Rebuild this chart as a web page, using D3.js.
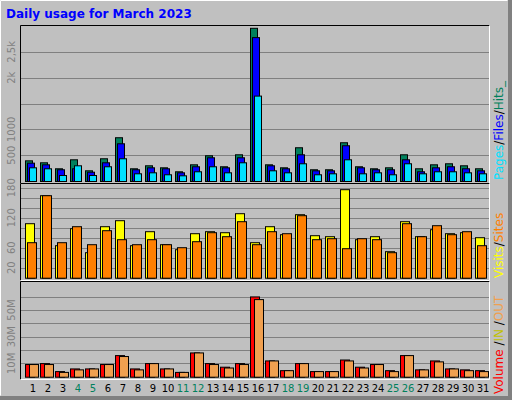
<!DOCTYPE html>
<html><head><meta charset="utf-8">
<script src="https://cdn.jsdelivr.net/npm/d3@7"></script>
<style>body{margin:0;background:#fff}</style>
</head><body><svg width="512" height="400"></svg>
<script>
const days = d3.range(1, 32);
const weekend = [4, 5, 11, 12, 18, 19, 25, 26];
const hits  = [400,362,246,420,207,440,847,246,304,265,188,323,498,285,517,2965,323,265,653,227,227,750,285,246,265,517,246,323,343,304,246];
const files = [355,323,227,246,180,362,730,227,265,246,168,285,459,265,459,2785,304,246,517,207,207,692,265,227,227,420,188,265,285,246,207];
const pages = [265,246,116,304,116,285,440,149,168,130,110,188,285,168,362,1653,207,168,343,130,149,420,149,168,130,343,149,188,188,168,149];
const visits = [109,165,65,99,51,103,115,65,93,67,57,89,93,91,129,71,103,87,127,85,83,177,77,83,53,113,83,97,89,91,81];
const sites  = [71,165,71,103,67,95,77,67,77,67,61,73,91,83,113,67,93,89,125,77,79,59,79,77,51,109,83,105,87,93,65];
const kbIn  = [9.5,10.2,4.2,6.2,6.2,9.5,16.2,6.2,10.2,6.2,3.6,18.2,10.2,7.5,10.2,60.2,12.2,4.9,10.2,4.2,4.2,12.9,7.5,9.5,4.9,16.2,5.5,12.2,6.2,5.5,4.9];
const kbOut = [9.5,9.5,3.6,5.5,6.2,9.5,15.5,5.5,10.2,6.2,3.6,18.2,9.5,6.9,9.5,58.2,12.2,4.9,10.2,4.2,4.2,12.2,6.9,9.5,4.2,16.2,5.5,11.5,6.2,4.9,4.2];
const topTicks = [500, 1000, 1500, 2000, 2500];
const topLabels = {500: "500", 1000: "1000", 2000: "2k", 2500: "2,5k"};
const midTicks = [20, 40, 60, 80, 100, 120, 140, 160, 180];
const midLabels = [20, 60, 120, 180];
const botTicks = [10, 20, 30, 40, 50, 60];
const botLabels = [10, 30, 50];

const svg = d3.select("svg");
svg.append("rect").attr("width", 512).attr("height", 400).attr("fill", "#808080");
svg.append("rect").attr("width", 508).attr("height", 396).attr("fill", "#c0c0c0");
svg.append("path").attr("d", "M0.5,395.5V0.5H507.5").attr("stroke", "#fff").attr("fill", "none");
svg.append("text").attr("x", 6).attr("y", 18).attr("fill", "#0000ff")
  .style("font", "bold 12px 'DejaVu Sans', sans-serif").text("Daily usage for March 2023");

const x = d3.scaleLinear().domain([1, 2]).range([25, 40]);

function panel(y0, y1, yMax, ticks) {
  const y = d3.scaleLinear().domain([0, yMax]).range([y1 - 3, y0 + 3 + (y1 - y0) * 0]);
  const g = svg.append("g");
  g.append("rect").attr("x", 20).attr("y", y0).attr("width", 470).attr("height", y1 - y0).attr("fill", "#c0c0c0");
  g.selectAll("line.grid").data(ticks).join("line").attr("class", "grid")
    .attr("x1", 21).attr("x2", 489).attr("y1", d => Math.round(y(d)) + 0.5).attr("y2", d => Math.round(y(d)) + 0.5)
    .attr("stroke", "#808080");
  g.append("path").attr("d", `M20.5,${y1 - 0.5}V${y0 + 0.5}H489.5`).attr("stroke", "#000").attr("fill", "none");
  g.append("path").attr("d", `M20.5,${y1 - 0.5}H489.5V${y0 + 0.5}`).attr("stroke", "#fff").attr("fill", "none");
  return y;
}
function bars(y, data, off, w, color) {
  svg.append("g").selectAll("rect").data(data).join("rect")
    .attr("x", (d, i) => x(days[i]) + off + 0.5).attr("width", w)
    .attr("y", d => y(d) + 0.5).attr("height", d => Math.max(0, y(0) - y(d)))
    .attr("fill", color).attr("stroke", "#000");
}
function yLabels(y, vals, fmt) {
  svg.append("g").selectAll("text").data(vals).join("text")
    .attr("transform", d => `translate(15,${y(d)}) rotate(-90)`).attr("text-anchor", "middle")
    .attr("fill", "#808080").style("font", "10px 'DejaVu Sans', sans-serif").text(fmt);
}

// top: hits/files/pages (0 at y≈181, 500 per 25.8px)
const yTop = d3.scaleLinear().domain([0, 3000]).range([181, 26]);
panel(25, 184, 3000, []);
svg.append("g").selectAll("line").data(topTicks).join("line")
  .attr("x1", 21).attr("x2", 489).attr("y1", d => Math.round(yTop(d)) + 0.5).attr("y2", d => Math.round(yTop(d)) + 0.5)
  .attr("stroke", "#808080");
bars(yTop, hits, 0, 7, "#00805c");
bars(yTop, files, 2, 7, "#0000ff");
bars(yTop, pages, 4, 7, "#00e0ff");
yLabels(yTop, Object.keys(topLabels).map(Number), d => topLabels[d]);

// middle: visits/sites
const yMid = d3.scaleLinear().domain([0, 180]).range([277.7, 187.7]);
panel(183, 281, 180, []);
svg.append("g").selectAll("line").data(midTicks).join("line")
  .attr("x1", 21).attr("x2", 489).attr("y1", d => Math.round(yMid(d)) + 0.5).attr("y2", d => Math.round(yMid(d)) + 0.5)
  .attr("stroke", "#808080");
bars(yMid, visits, 0, 9, "#ffff00");
bars(yMid, sites, 2, 9, "#ff8000");
yLabels(yMid, midLabels, d => d);

// bottom: volume
const yBot = d3.scaleLinear().domain([0, 60]).range([376.7, 296.7]);
panel(281, 380, 60, []);
svg.append("g").selectAll("line").data(botTicks).join("line")
  .attr("x1", 21).attr("x2", 489).attr("y1", d => Math.round(yBot(d)) + 0.5).attr("y2", d => Math.round(yBot(d)) + 0.5)
  .attr("stroke", "#808080");
bars(yBot, kbIn, 0, 9, "#ff0000");
bars(yBot, kbOut, 4, 9, "#f0a050");
yLabels(yBot, botLabels, d => d + "M");

// day labels
svg.append("g").selectAll("text").data(days).join("text")
  .attr("x", d => x(d) + 8).attr("y", 392).attr("text-anchor", "middle")
  .attr("fill", d => weekend.includes(d) ? "#00805c" : "#000")
  .style("font", "10px 'DejaVu Sans', sans-serif").text(d => d);

// right-side legends
function legend(yBottom, parts) {
  const t = svg.append("text").attr("transform", `translate(503,${yBottom}) rotate(-90)`)
    .style("font", "12px 'DejaVu Sans', sans-serif");
  parts.forEach(([s, c]) => t.append("tspan").attr("fill", c).text(s));
}
legend(180, [["Pages", "#00e0ff"], ["/", "#000"], ["Files", "#0000ff"], ["/", "#000"], ["Hits_", "#00805c"]]);
legend(278, [["Visits", "#ffff00"], ["/", "#000"], ["Sites", "#ff8000"]]);
legend(394, [["Volume", "#ff0000"], [" /", "#000"], ["IN", "#c0c000"], [" /", "#000"], ["OUT", "#f0a050"]]);
</script></body></html>
